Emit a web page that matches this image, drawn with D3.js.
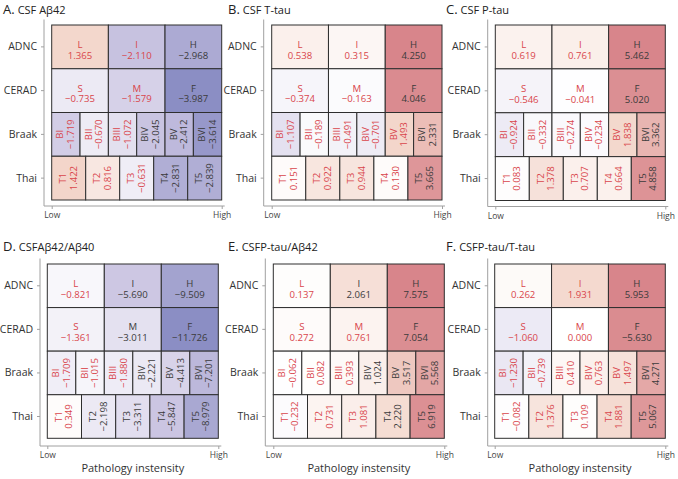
<!DOCTYPE html>
<html><head><meta charset="utf-8">
<script src="https://cdn.jsdelivr.net/npm/d3@7"></script>
<style>body{margin:0;background:#fff} svg{display:block;font-family:"Open Sans",sans-serif}</style>
</head><body><svg id="c" width="678" height="479"></svg>
<script>
// ---------- data ----------
const panelLetters = ["A.", "B.", "C.", "D.", "E.", "F."];
const panelNames = ["CSF Aβ42", "CSF T-tau", "CSF P-tau", "CSFAβ42/Aβ40", "CSFP-tau/Aβ42", "CSFP-tau/T-tau"];
const systems = ["ADNC", "CERAD", "Braak", "Thai"];
const stages = [["L", "I", "H"], ["S", "M", "F"], ["BI", "BII", "BIII", "BIV", "BV", "BVI"], ["T1", "T2", "T3", "T4", "T5"]];
const xTickLabels = ["Low", "High"];
const xAxisTitle = "Pathology instensity";

const valuesA = [[1.365, -2.110, -2.968], [-0.735, -1.579, -3.987], [-1.719, -0.670, -1.072, -2.045, -2.412, -3.614], [1.422, 0.816, -0.631, -2.831, -2.839]];
const valuesB = [[0.538, 0.315, 4.250], [-0.374, -0.163, 4.046], [-1.107, -0.189, -0.491, -0.701, 1.493, 2.331], [0.151, 0.922, 0.944, 0.130, 3.665]];
const valuesC = [[0.619, 0.761, 5.462], [-0.546, -0.041, 5.020], [-0.924, -0.332, -0.274, -0.234, 1.838, 3.362], [0.083, 1.378, 0.707, 0.664, 4.858]];
const valuesD = [[-0.821, -5.690, -9.509], [-1.361, -3.011, -11.726], [-1.709, -1.015, -1.880, -2.221, -4.413, -7.201], [0.349, -2.198, -3.311, -5.847, -8.979]];
const valuesE = [[0.137, 2.061, 7.575], [0.272, 0.761, 7.054], [-0.062, 0.082, 0.393, 1.024, 3.517, 5.568], [-0.232, 0.731, 1.081, 2.220, 6.919]];
const valuesF = [[0.262, 1.931, 5.953], [-1.060, 0.000, 5.630], [-1.230, -0.739, 0.410, 0.763, 1.497, 4.271], [-0.082, 1.376, 0.109, 1.881, 5.067]];

// 1 = significant (dark label), 0 = not significant (red label)
const sigA = [[0, 0, 1], [0, 0, 1], [0, 0, 0, 1, 1, 1], [0, 0, 0, 1, 1]];
const sigB = [[0, 0, 1], [0, 0, 1], [0, 0, 0, 0, 0, 1], [0, 0, 0, 0, 1]];
const sigC = [[0, 0, 1], [0, 0, 1], [0, 0, 0, 0, 0, 1], [0, 0, 0, 0, 1]];
const sigD = [[0, 1, 1], [0, 1, 1], [0, 0, 0, 1, 1, 1], [0, 1, 1, 1, 1]];
const sigE = [[0, 1, 1], [0, 0, 1], [0, 0, 0, 1, 1, 1], [0, 0, 0, 1, 1]];
const sigF = [[0, 0, 1], [0, 0, 1], [0, 0, 0, 0, 0, 1], [0, 0, 0, 0, 1]];

// printed label differs from the value in the original figure (panel F, CERAD F)
const labelOverrides = {"5-1-2": "\u22125.630"};

const allValues = [valuesA, valuesB, valuesC, valuesD, valuesE, valuesF];
const allSig = [sigA, sigB, sigC, sigD, sigE, sigF];

// ---------- layout ----------
const layout = [
  {tx: 3,   ty: 13.5, ax: 44,    x0: 51.7,  x1: 221.7, y0: 25,  y1: 200},
  {tx: 228, ty: 13.5, ax: 263.7, x0: 271.7, x1: 442,   y0: 25,  y1: 200},
  {tx: 446, ty: 13.5, ax: 487.7, x0: 495.3, x1: 665.3, y0: 25,  y1: 200.5},
  {tx: 3,   ty: 251,  ax: 40,    x0: 47.3,  x1: 218.3, y0: 264, y1: 438.3},
  {tx: 228, ty: 251,  ax: 265.3, x0: 273.3, x1: 444.3, y0: 264, y1: 438.3},
  {tx: 446, ty: 251,  ax: 487.7, x0: 494.7, x1: 665.3, y0: 264, y1: 438.3}
];

const RED_TXT = "#d9454b", DARK_TXT = "#3b3b3b", AXIS_COL = "#a0a0a0";
const fmt = d3.format(".3f");
const posColor = d3.scaleLinear().domain([0, 0.35, 1]).range(["#ffffff", "#f3d6cb", "#d8858b"]).interpolate(d3.interpolateRgb);
const negColor = d3.scaleLinear().domain([0, 0.5, 1]).range(["#ffffff", "#cbc5e2", "#8b8ec4"]).interpolate(d3.interpolateRgb);

const svg = d3.select("#c");

allValues.forEach((vals, p) => {
  const L = layout[p];
  const g = svg.append("g");
  const maxAbs = d3.max(vals.flat(), d => Math.abs(d));
  const color = v => v >= 0 ? posColor(v / maxAbs) : negColor(-v / maxAbs);

  const x = d3.scaleLinear().domain([0, 1]).range([L.x0, L.x1]);
  const y = d3.scaleBand().domain(systems).range([L.y0, L.y1]).padding(0);

  // title
  const t = g.append("text").attr("x", L.tx).attr("y", L.ty).attr("fill", "#222");
  t.append("tspan").attr("font-size", 13).text(panelLetters[p]);
  t.append("tspan").attr("font-size", 11).attr("dx", 3).text(panelNames[p]);

  // cells
  systems.forEach((sys, r) => {
    const row = vals[r], n = row.length;
    const rotated = r >= 2;
    row.forEach((v, i) => {
      const xa = x(i / n), xb = x((i + 1) / n);
      const ya = y(sys), yb = ya + y.bandwidth();
      g.append("rect").attr("x", xa).attr("y", ya).attr("width", xb - xa).attr("height", yb - ya)
        .attr("fill", color(v)).attr("stroke", "#2e2e2e").attr("stroke-width", 1);
      const label = labelOverrides[`${p}-${r}-${i}`] || fmt(v);
      const col = allSig[p][r][i] ? DARK_TXT : RED_TXT;
      const cx = (xa + xb) / 2, cy = (ya + yb) / 2;
      if (!rotated) {
        const tt = g.append("text").attr("text-anchor", "middle").attr("font-size", 9.6).attr("fill", col);
        tt.append("tspan").attr("x", cx).attr("y", cy + 1).text(stages[r][i]);
        tt.append("tspan").attr("x", cx).attr("y", cy + 11.8).text(label);
      } else {
        const tt = g.append("text").attr("text-anchor", "middle").attr("font-size", 9.6).attr("fill", col)
          .attr("transform", `translate(${cx},${cy}) rotate(-90)`);
        tt.append("tspan").attr("x", 0).attr("y", -2.5).text(stages[r][i]);
        tt.append("tspan").attr("x", 0).attr("y", 8).text(label);
      }
    });
  });

  // y axis
  const yAxis = d3.axisLeft(y).tickSize(3).tickPadding(4);
  const ya = g.append("g").attr("transform", `translate(${L.ax},0)`).call(yAxis);
  ya.select(".domain").remove();
  ya.selectAll(".tick line").attr("stroke", AXIS_COL);
  ya.selectAll(".tick text").attr("font-size", 10.5).attr("fill", "#333").attr("font-family", "Open Sans");
  const axY = L.y1 + (p < 3 ? 6 : 7.7);
  g.append("line").attr("x1", L.ax).attr("x2", L.ax).attr("y1", L.y0 - 5.5).attr("y2", axY).attr("stroke", AXIS_COL).attr("stroke-width", 1);

  // x axis
  const xAxis = d3.axisBottom(x).tickValues([0, 1]).tickFormat((d, i) => xTickLabels[i]).tickSize(3).tickPadding(3);
  const xa = g.append("g").attr("transform", `translate(0,${axY})`).call(xAxis);
  xa.select(".domain").remove();
  xa.selectAll(".tick line").attr("stroke", AXIS_COL);
  xa.selectAll(".tick text").attr("font-size", 8.5).attr("fill", "#444").attr("font-family", "Open Sans");
  g.append("line").attr("x1", L.ax).attr("x2", L.x1 + 3).attr("y1", axY).attr("y2", axY).attr("stroke", AXIS_COL).attr("stroke-width", 1);

  if (p >= 3) {
    g.append("text").attr("x", (L.x0 + L.x1) / 2).attr("y", 472).attr("text-anchor", "middle")
      .attr("font-size", 11).attr("fill", "#333").text(xAxisTitle);
  }
});
</script>
</body></html>
